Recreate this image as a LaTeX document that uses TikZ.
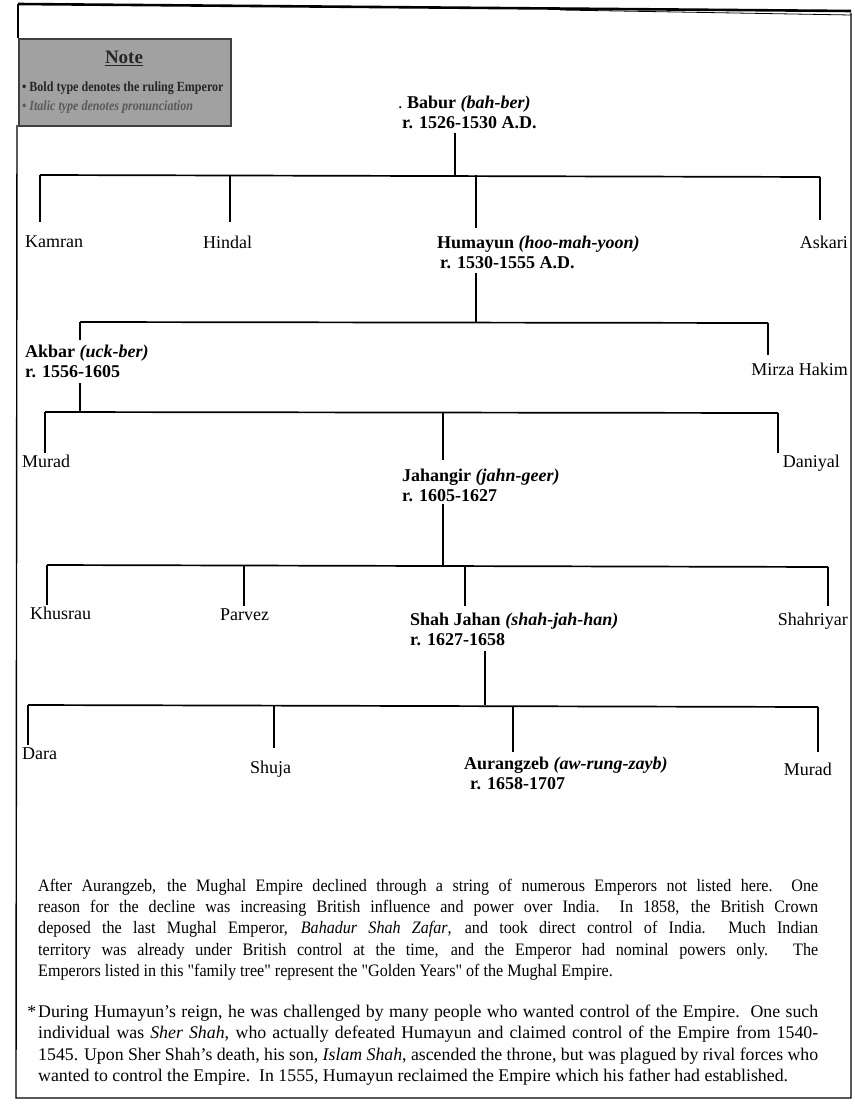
\documentclass[tikz,border=0pt]{standalone}
\usepackage{fontspec}
\setmainfont{Liberation Serif}
\newfontfamily\condfont[FakeStretch=0.92]{Liberation Serif}
\newfontfamily\notefont[FakeStretch=0.86]{Liberation Serif}
\usetikzlibrary{calc}
\begin{document}
\begin{tikzpicture}[x=1pt,y=-1pt,
  nm/.style={anchor=north west, inner sep=0pt, font=\fontsize{18}{19.5}\selectfont, align=left},
  nmr/.style={nm, anchor=north east},
  bar/.style={line width=1.7pt},
  drop/.style={line width=1.2pt},
  para/.style={anchor=north west, inner sep=0pt, text width=780pt, align=justify},
  frame/.style={line width=1.4pt}]
\useasboundingbox (0,0) rectangle (854,1108);
% frame
\draw[line width=2.6pt] (18,4) -- (851,11);
\draw[line width=0.8pt] (560,10) -- (851,15);
\draw[frame] (18,4) -- (18,38);
\draw[frame] (17,125) -- (16,1098) -- (851,1098) -- (851,13);
% note box
\node[draw=black!75, line width=1.6pt, fill=black!37, minimum width=212pt, minimum height=87pt, anchor=north west, inner sep=0pt] (note) at (18,38) {};
\node[font=\fontsize{19}{20}\selectfont\bfseries, text=black!85] (notetitle) at (124,58) {\underline{Note}};
\node[anchor=west, inner sep=0pt, font=\notefont\fontsize{14}{15}\selectfont\bfseries, text=black!85] (noteb1) at (22,88) {\textbullet\ Bold type denotes the ruling Emperor};
\node[anchor=west, inner sep=0pt, font=\notefont\fontsize{14}{15}\selectfont\bfseries\itshape, text=black!65] (noteb2) at (22,107) {\textbullet\ Italic type denotes pronunciation};
% tree nodes
\node[nm] (babur) at (398,96) {.\ \textbf{Babur} \textbf{\textit{(bah-ber)}}\\\hspace*{4pt}\textbf{r. 1526-1530 A.D.}};
\node[nm] (kamran) at (25,236) {Kamran};
\node[nm] (hindal) at (203,236) {Hindal};
\node[nm] (humayun) at (437,236) {\textbf{Humayun} \textbf{\textit{(hoo-mah-yoon)}}\\\hspace*{3pt}\textbf{r. 1530-1555 A.D.}};
\node[nmr] (askari) at (848,236) {Askari};
\node[nm] (akbar) at (25,345) {\textbf{Akbar} \textbf{\textit{(uck-ber)}}\\\textbf{r. 1556-1605}};
\node[nmr] (mirza) at (848,363) {Mirza Hakim};
\node[nm] (murad1) at (22,455) {Murad};
\node[nm] (jahangir) at (402,469) {\textbf{Jahangir} \textbf{\textit{(jahn-geer)}}\\\textbf{r. 1605-1627}};
\node[nmr] (daniyal) at (840,455) {Daniyal};
\node[nm] (khusrau) at (30,607) {Khusrau};
\node[nm] (parvez) at (220,609) {Parvez};
\node[nm] (shahjahan) at (410,613) {\textbf{Shah Jahan} \textbf{\textit{(shah-jah-han)}}\\\textbf{r. 1627-1658}};
\node[nmr] (shahriyar) at (848,613) {Shahriyar};
\node[nm] (dara) at (22,748) {Dara};
\node[nm] (shuja) at (250,761) {Shuja};
\node[nm] (aurangzeb) at (464,757) {\textbf{Aurangzeb} \textbf{\textit{(aw-rung-zayb)}}\\\hspace*{6pt}\textbf{r. 1658-1707}};
\node[nmr] (murad2) at (832,763) {Murad};
% row 1
\coordinate (r1a) at (40,175); \coordinate (r1b) at (230,175); \coordinate (r1c) at (455,175);
\coordinate (r1d) at (476,175); \coordinate (r1e) at (820,177);
\draw[drop, shorten <=4pt] (babur.south -| r1c) -- (r1c);
\draw[bar] (r1a) -- (r1e);
\draw[drop, shorten >=14pt] (r1a) -- (kamran.north -| r1a);
\draw[drop, shorten >=14pt] (r1b) -- (hindal.north -| r1b);
\draw[drop, shorten >=8pt] (r1d) -- (humayun.north -| r1d);
\draw[drop, shorten >=16pt] (r1e) -- (askari.north -| r1e);
% row 2
\coordinate (r2a) at (80,322); \coordinate (r2c) at (476,322); \coordinate (r2e) at (768,323);
\draw[drop, shorten <=4pt] (humayun.south -| r2c) -- (r2c);
\draw[bar] (r2a) -- (r2e);
\draw[drop, shorten >=5pt] (r2a) -- (akbar.north -| r2a);
\draw[drop, shorten >=8pt] (r2e) -- (mirza.north -| r2e);
% row 3
\coordinate (r3a) at (45,412); \coordinate (r3b) at (80,412); \coordinate (r3c) at (443,412); \coordinate (r3e) at (778,413);
\draw[drop, shorten <=5pt] (akbar.south -| r3b) -- (r3b);
\draw[bar] (r3a) -- (r3e);
\draw[drop, shorten >=2pt] (r3a) -- (murad1.north -| r3a);
\draw[drop, shorten >=9pt] (r3c) -- (jahangir.north -| r3c);
\draw[drop, shorten >=2pt] (r3e) -- (daniyal.north -| r3e);
% row 4
\coordinate (r4a) at (47,565); \coordinate (r4b) at (244,565); \coordinate (r4c) at (443,565);
\coordinate (r4d) at (465,565); \coordinate (r4e) at (828,567);
\draw[drop, shorten <=2pt] (jahangir.south -| r4c) -- (r4c);
\draw[bar] (r4a) -- (r4e);
\draw[drop, shorten >=2pt] (r4a) -- (khusrau.north -| r4a);
\draw[drop, shorten >=3pt] (r4b) -- (parvez.north -| r4b);
\draw[drop, shorten >=7pt] (r4d) -- (shahjahan.north -| r4d);
\draw[drop, shorten >=7pt] (r4e) -- (shahriyar.north -| r4e);
% row 5
\coordinate (r5a) at (28,705); \coordinate (r5b) at (274,705); \coordinate (r5c) at (485,705);
\coordinate (r5d) at (513,706); \coordinate (r5e) at (818,707);
\draw[drop, shorten <=5pt] (shahjahan.south -| r5c) -- (r5c);
\draw[bar] (r5a) -- (r5e);
\draw[drop, shorten >=3pt] (r5a) -- (dara.north -| r5a);
\draw[drop, shorten >=13pt] (r5b) -- (shuja.north -| r5b);
\draw[drop, shorten >=5pt] (r5d) -- (aurangzeb.north -| r5d);
\draw[drop, shorten >=11pt] (r5e) -- (murad2.north -| r5e);
% paragraphs
\node[para, font=\condfont\fontsize{17.5}{21.2}\selectfont] (para1) at (38,879) {After Aurangzeb, the Mughal Empire declined through a string of numerous Emperors not listed here.\ \ One\linebreak
reason for the decline was increasing British influence and power over India.\ \ In 1858, the British Crown\linebreak
deposed the last Mughal Emperor, \textit{Bahadur Shah Zafar}, and took direct control of India.\ \ Much Indian\linebreak
territory was already under British control at the time, and the Emperor had nominal powers only. The\linebreak
Emperors listed in this "family tree" represent the "Golden Years" of the Mughal Empire.};
\node[para, font=\fontsize{17.8}{21.2}\selectfont] (para2) at (38,1005) {\llap{*\hspace{2pt}}During Humayun's reign, he was challenged by many people who wanted control of the Empire.\ \ One such\linebreak
individual was \textit{Sher Shah}, who actually defeated Humayun and claimed control of the Empire from 1540-\linebreak
1545. Upon Sher Shah's death, his son, \textit{Islam Shah}, ascended the throne, but was plagued by rival forces who\linebreak
wanted to control the Empire.\ \ In 1555, Humayun reclaimed the Empire which his father had established.};
\end{tikzpicture}
\end{document}
